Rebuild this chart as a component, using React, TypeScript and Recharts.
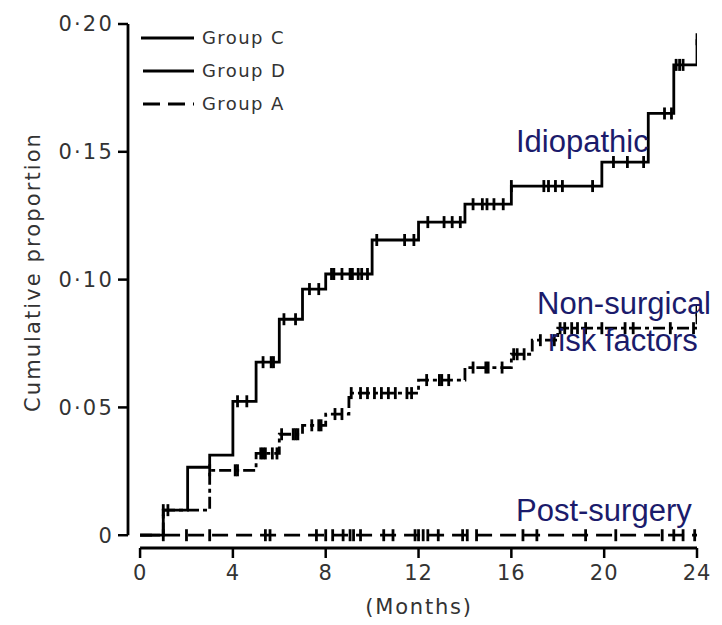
import React from "react";
import {
  ComposedChart, Line, Scatter, XAxis, YAxis, ReferenceLine,
} from "recharts";

// step curves: time (months) where the level starts, and cumulative proportion
const groupCTimes = [0, 1, 2.05, 3, 4, 5, 6, 7, 8, 10, 12, 14, 16, 19.9, 21.9, 23, 24];
const groupCLevels = [0, 0.0098, 0.0266, 0.0313, 0.0524, 0.0677, 0.0845, 0.0963, 0.1022, 0.1155, 0.1225, 0.1295, 0.1366, 0.146, 0.165, 0.184, 0.194];

const groupDTimes = [0, 1, 3, 5, 6, 7, 8, 9, 12, 14, 16, 16.9, 18, 24];
const groupDLevels = [0, 0.0098, 0.0254, 0.032, 0.0395, 0.043, 0.0474, 0.0556, 0.0607, 0.0656, 0.0708, 0.0763, 0.081, 0.088];

const groupATimes = [0, 24];
const groupALevels = [0, 0];

// censored observations (months)
const groupCCensored = [1.0, 1.2, 4.2, 4.6, 5.3, 5.65, 5.75, 6.2, 6.7, 7.3, 7.7, 8.25, 8.35, 8.7, 9.05, 9.15, 9.4, 9.55, 9.8, 10.2, 11.4, 11.8, 12.4, 13.1, 13.45, 13.8, 14.35, 14.75, 14.95, 15.25, 15.65, 16.0, 17.4, 17.6, 17.9, 18.2, 19.5, 20.4, 21.0, 21.7, 22.6, 22.9, 23.1, 23.25, 23.4, 24];
const groupDCensored = [3.0, 4.1, 4.2, 5.2, 5.3, 5.4, 5.7, 5.9, 6.1, 6.6, 6.7, 6.8, 7.4, 7.7, 7.8, 8.4, 8.7, 9.1, 9.5, 9.8, 10.1, 10.4, 10.7, 11.0, 11.5, 11.7, 12.35, 12.9, 13.0, 13.3, 14.35, 14.9, 15.0, 15.6, 16.1, 16.25, 16.55, 17.25, 17.85, 18.1, 18.3, 18.6, 18.85, 19.2, 19.9, 20.9, 21.25, 22.85, 23.85, 24];
const groupACensored = [1.0, 2.0, 3.0, 5.4, 5.6, 7.6, 8.0, 8.3, 8.75, 9.05, 9.2, 9.5, 10.5, 10.9, 11.85, 12.0, 12.2, 12.4, 12.85, 13.9, 14.1, 14.5, 16.5, 17.1, 19.2, 20.5, 22.5, 23.0, 23.4, 23.9];

const xTicks = [0, 4, 8, 12, 16, 20, 24];
const yTicks = [0, 0.05, 0.1, 0.15, 0.2];

const INK = "#000";
const TEXT = "#333";
const NAVY = "#1b1b6b";
const FONT = "'DejaVu Sans', sans-serif";
const ANNOT_FONT = "'Liberation Sans', Arial, sans-serif";

const toSteps = (times: number[], levels: number[]) =>
  times.map((x, i) => ({ x, y: levels[i] }));

// level of the step curve at time t
const levelAt = (times: number[], levels: number[], t: number) => {
  let v = levels[0];
  times.forEach((x, i) => { if (x <= t) v = levels[i]; });
  return v;
};
const toMarks = (censored: number[], times: number[], levels: number[]) =>
  censored.map((x) => ({ x, y: levelAt(times, levels, x) }));

const series = [
  { name: "Group C", steps: toSteps(groupCTimes, groupCLevels), marks: toMarks(groupCCensored, groupCTimes, groupCLevels), dash: undefined as string | undefined, legendDash: undefined as string | undefined },
  { name: "Group D", steps: toSteps(groupDTimes, groupDLevels), marks: toMarks(groupDCensored, groupDTimes, groupDLevels), dash: "12 4 4 4", legendDash: undefined },
  { name: "Group A", steps: toSteps(groupATimes, groupALevels), marks: toMarks(groupACensored, groupATimes, groupALevels), dash: "16 8", legendDash: "17 8" },
];

const CensorMark = (props: any) => {
  const { cx, cy } = props;
  if (cx == null || cy == null) return <g />;
  return <line x1={cx} x2={cx} y1={cy - 6} y2={cy + 6} stroke={INK} strokeWidth={2.8} />;
};

const fmtY = (v: number) => (v === 0 ? "0" : "0·" + String(Math.round(v * 100)).padStart(2, "0"));

const LegendBox = () => (
  <svg width={180} height={90}>
    {series.map((s, i) => (
      <g key={s.name} transform={`translate(0, ${i * 33 + 10})`}>
        <line x1={i === 0 ? 0 : 2} x2={53} y1={0} y2={0} stroke={INK} strokeWidth={2.8} strokeDasharray={s.legendDash} />
        <text x={61} y={0} dy="0.36em" fontSize={18} letterSpacing={1.4} fill={TEXT} fontFamily={FONT}>{s.name}</text>
      </g>
    ))}
  </svg>
);

const annot: React.CSSProperties = {
  position: "absolute", color: NAVY, fontFamily: ANNOT_FONT, fontSize: 31, lineHeight: "36px", whiteSpace: "nowrap",
};

export default function App() {
  return (
    <div style={{ position: "relative", width: 714, height: 610, background: "#fff" }}>
      <ComposedChart width={714} height={610} margin={{ top: 16, right: 25, bottom: 30, left: 20 }}>
        <XAxis
          type="number" dataKey="x" domain={[-0.52, 24]} ticks={xTicks} allowDataOverflow
          axisLine={false} tickLine={{ stroke: INK, strokeWidth: 2.5 }} tickSize={10} tickMargin={7} height={40}
          tick={{ fill: TEXT, fontSize: 21, fontFamily: FONT, letterSpacing: 1 }}
        />
        <YAxis
          type="number" domain={[-0.005, 0.2]} ticks={yTicks} allowDataOverflow width={100}
          axisLine={false} tickLine={{ stroke: INK, strokeWidth: 2.5 }} tickSize={10} tickMargin={4}
          tickFormatter={fmtY}
          tick={{ fill: TEXT, fontSize: 21, fontFamily: FONT, letterSpacing: 2.2 }}
        />
        <ReferenceLine segment={[{ x: 0, y: -0.005 }, { x: 24, y: -0.005 }]} stroke={INK} strokeWidth={2.8} ifOverflow="visible" />
        <ReferenceLine segment={[{ x: -0.52, y: 0 }, { x: -0.52, y: 0.2 }]} stroke={INK} strokeWidth={2.8} ifOverflow="visible" />
        {series.map((s) => (
          <Line
            key={s.name} name={s.name} data={s.steps} dataKey="y" type="stepAfter"
            stroke={INK} strokeWidth={2.8} strokeDasharray={s.dash}
            dot={false} activeDot={false} isAnimationActive={false}
          />
        ))}
        {series.map((s) => (
          <Scatter
            key={s.name + "-cens"} data={s.marks} dataKey="y" legendType="none"
            shape={<CensorMark />} isAnimationActive={false}
          />
        ))}
      </ComposedChart>

      <div style={{ position: "absolute", top: 20, left: 133 }}>
        <LegendBox />
      </div>

      <div style={{ position: "absolute", left: 419 - 8 - 100, width: 200, top: 595 - 8, textAlign: "center", fontFamily: FONT, fontSize: 21, letterSpacing: 1.8, color: TEXT }}>
        (Months)
      </div>
      <div style={{ position: "absolute", left: 33 - 8 - 160, top: 272 - 8 - 14, width: 320, height: 28, textAlign: "center", transform: "rotate(-90deg)", fontFamily: FONT, fontSize: 21, letterSpacing: 2.1, color: TEXT, lineHeight: "28px", whiteSpace: "nowrap" }}>
        Cumulative proportion
      </div>

      <div style={{ ...annot, left: 516 - 8, top: 124 - 8 }}>Idiopathic</div>
      <div style={{ ...annot, left: 537 - 8, top: 286 - 8 }}>Non-surgical</div>
      <div style={{ ...annot, left: 548 - 8, top: 323 - 8 }}>risk factors</div>
      <div style={{ ...annot, left: 516 - 8, top: 493 - 8 }}>Post-surgery</div>
    </div>
  );
}
